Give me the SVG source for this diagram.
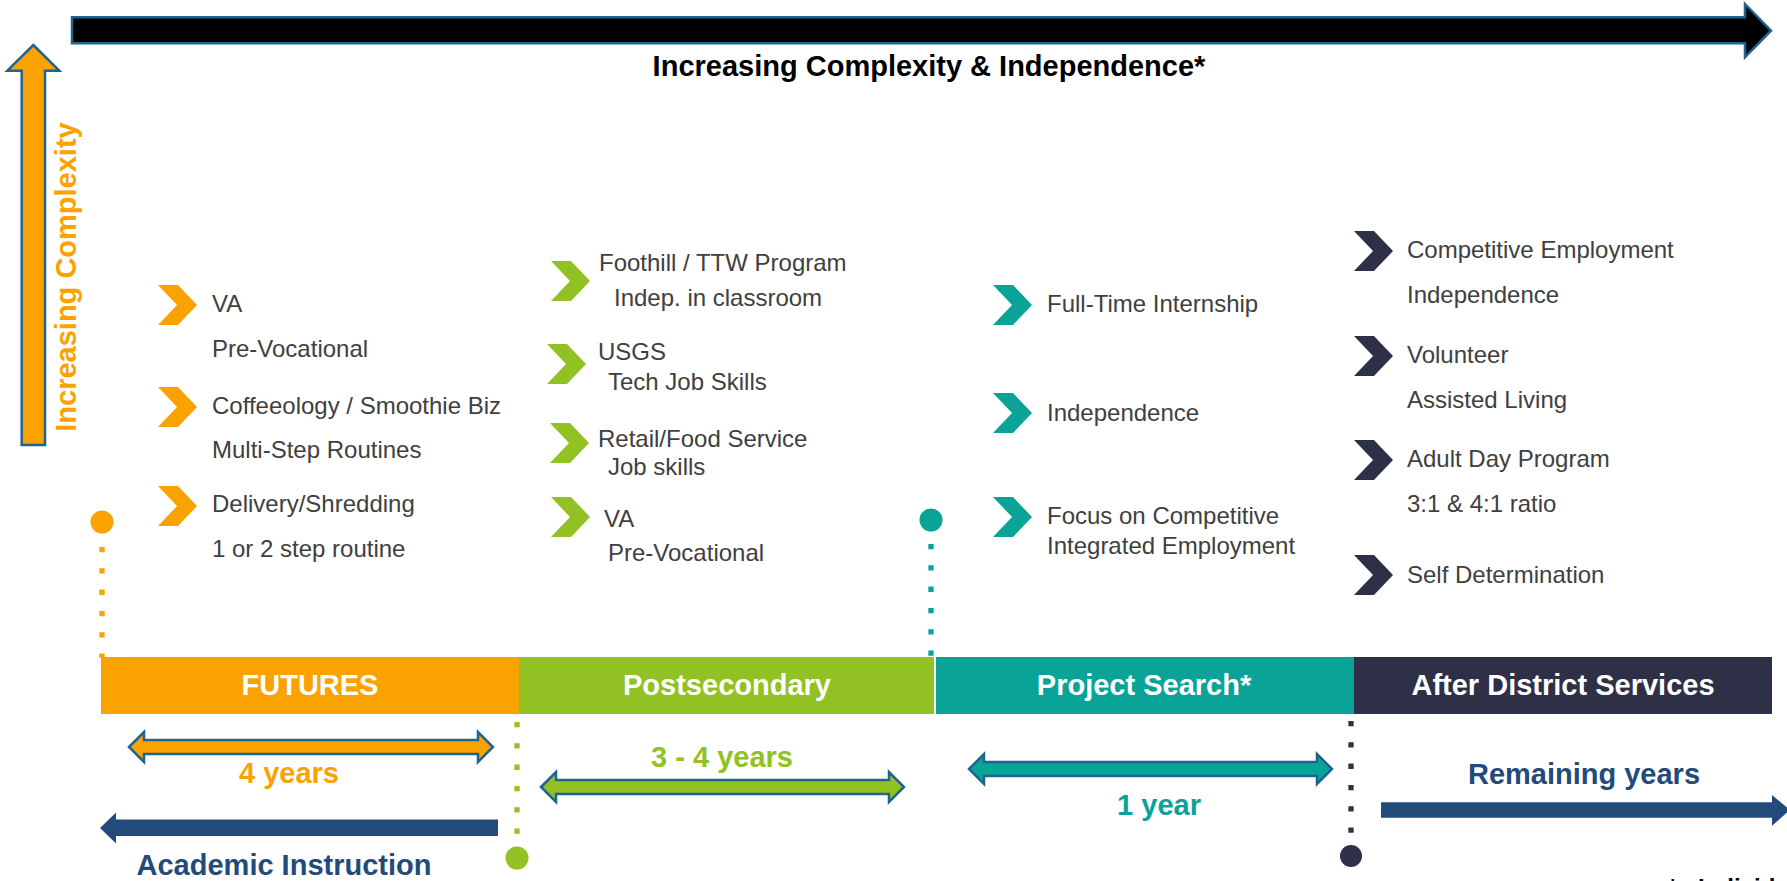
<svg xmlns="http://www.w3.org/2000/svg" width="1787" height="881" viewBox="0 0 1787 881">
<style>
text{font-family:"Liberation Sans",Arial,sans-serif}
.item{font-size:24px;fill:#404040}
.bar{font-size:29px;font-weight:bold;fill:#ffffff;text-anchor:middle}
.lbl{font-size:29px;font-weight:bold;text-anchor:middle}
.outl{stroke:#1F6391;stroke-width:2.5;stroke-linejoin:miter}
.dot{stroke-width:5.3;stroke-dasharray:5.3 16;fill:none}
</style>
<defs>
<path id="chev" d="M0,0 H20 L39,20 L20,40 H0 L19,20 Z"/>
</defs>
<rect width="1787" height="881" fill="#ffffff"/>

<g id="top-arrow">
<polygon class="outl" fill="#000000" points="72,17.3 1745,17.3 1745,4 1771,30.7 1745,57.3 1745,43.3 72,43.3"/>
<text x="929" y="76" font-size="29" font-weight="bold" fill="#000000" text-anchor="middle">Increasing Complexity &amp; Independence*</text>
</g>

<g id="up-arrow">
<polygon class="outl" fill="#FAA300" points="33.3,45 59.3,70.7 45,70.7 45,445 21.7,445 21.7,70.7 7.3,70.7"/>
<text transform="translate(76,277) rotate(-90)" font-size="29" font-weight="bold" fill="#FAA300" text-anchor="middle">Increasing Complexity</text>
</g>

<g id="futures-items">
<use href="#chev" x="158" y="285" fill="#FAA300"/>
<use href="#chev" x="158" y="387" fill="#FAA300"/>
<use href="#chev" x="158" y="486" fill="#FAA300"/>
<text class="item" x="212" y="312">VA</text>
<text class="item" x="212" y="357">Pre-Vocational</text>
<text class="item" x="212" y="414">Coffeeology / Smoothie Biz</text>
<text class="item" x="212" y="458">Multi-Step Routines</text>
<text class="item" x="212" y="512">Delivery/Shredding</text>
<text class="item" x="212" y="557">1 or 2 step routine</text>
</g>

<g id="postsecondary-items">
<use href="#chev" x="551" y="261" fill="#91C122"/>
<use href="#chev" x="547" y="344" fill="#91C122"/>
<use href="#chev" x="550" y="423" fill="#91C122"/>
<use href="#chev" x="551" y="497" fill="#91C122"/>
<text class="item" x="599" y="271">Foothill / TTW Program</text>
<text class="item" x="614" y="306">Indep. in classroom</text>
<text class="item" x="598" y="360">USGS</text>
<text class="item" x="608" y="390">Tech Job Skills</text>
<text class="item" x="598" y="447">Retail/Food Service</text>
<text class="item" x="608" y="475">Job skills</text>
<text class="item" x="604" y="527">VA</text>
<text class="item" x="608" y="561">Pre-Vocational</text>
</g>

<g id="projectsearch-items">
<use href="#chev" x="993" y="285" fill="#0AA398"/>
<use href="#chev" x="993" y="393" fill="#0AA398"/>
<use href="#chev" x="993" y="497" fill="#0AA398"/>
<text class="item" x="1047" y="312">Full-Time Internship</text>
<text class="item" x="1047" y="421">Independence</text>
<text class="item" x="1047" y="524">Focus on Competitive</text>
<text class="item" x="1047" y="554">Integrated Employment</text>
</g>

<g id="after-items">
<use href="#chev" x="1354" y="231" fill="#2D3047"/>
<use href="#chev" x="1354" y="336" fill="#2D3047"/>
<use href="#chev" x="1354" y="440" fill="#2D3047"/>
<use href="#chev" x="1354" y="555" fill="#2D3047"/>
<text class="item" x="1407" y="258">Competitive Employment</text>
<text class="item" x="1407" y="303">Independence</text>
<text class="item" x="1407" y="363">Volunteer</text>
<text class="item" x="1407" y="408">Assisted Living</text>
<text class="item" x="1407" y="467">Adult Day Program</text>
<text class="item" x="1407" y="512">3:1 &amp; 4:1 ratio</text>
<text class="item" x="1407" y="583">Self Determination</text>
</g>

<g id="connectors">
<line class="dot" x1="102" y1="547" x2="102" y2="658" stroke="#FAA300"/>
<line class="dot" x1="931" y1="544" x2="931" y2="658" stroke="#0AA398"/>
<line class="dot" x1="517" y1="722" x2="517" y2="835" stroke="#91C122"/>
<line class="dot" x1="1351" y1="721" x2="1351" y2="835" stroke="#2D3047"/>
<circle cx="102" cy="522" r="11.5" fill="#FAA300"/>
<circle cx="931" cy="520" r="11.5" fill="#0AA398"/>
<circle cx="517" cy="858" r="11.5" fill="#91C122"/>
<circle cx="1351" cy="856" r="11" fill="#2D3047"/>
</g>

<g id="phase-futures">
<rect x="101" y="657" width="418" height="57" fill="#FAA300"/>
<text class="bar" x="310" y="695">FUTURES</text>
</g>
<g id="phase-postsecondary">
<rect x="519" y="657" width="415" height="57" fill="#91C122"/>
<text class="bar" x="727" y="695">Postsecondary</text>
</g>
<g id="phase-projectsearch">
<rect x="936" y="657" width="418" height="57" fill="#0AA398"/>
<text class="bar" x="1144" y="695">Project Search*</text>
</g>
<g id="phase-after">
<rect x="1354" y="657" width="418" height="57" fill="#2D3047"/>
<text class="bar" x="1563" y="695">After District Services</text>
</g>

<g id="durations">
<polygon class="outl" fill="#FAA300" points="129,747 144,732 144,740 478,740 478,732 493,747 478,762 478,754 144,754 144,762"/>
<text class="lbl" x="289" y="783" fill="#FAA300">4 years</text>
<polygon class="outl" fill="#91C122" points="541,787 556,772 556,780 889,780 889,772 904,787 889,802 889,794 556,794 556,802"/>
<text class="lbl" x="722" y="767" fill="#91C122">3 - 4 years</text>
<polygon class="outl" fill="#0AA398" points="969,769 984,754 984,762 1317,762 1317,754 1332,769 1317,784 1317,776 984,776 984,784"/>
<text class="lbl" x="1159" y="815" fill="#0AA398">1 year</text>
<polygon fill="#224A7A" points="100,828 116,812.5 116,819.5 498,819.5 498,836 116,836 116,843.5"/>
<text class="lbl" x="284" y="875" fill="#224A7A">Academic Instruction</text>
<polygon fill="#224A7A" points="1381,802.3 1772,802.3 1772,795 1790,810 1772,825.7 1772,817.7 1381,817.7"/>
<text class="lbl" x="1584" y="784" fill="#224A7A">Remaining years</text>
</g>

<text x="1668" y="896" font-size="24" font-weight="bold" fill="#000000">*<tspan x="1698">Individual</tspan></text>
</svg>
